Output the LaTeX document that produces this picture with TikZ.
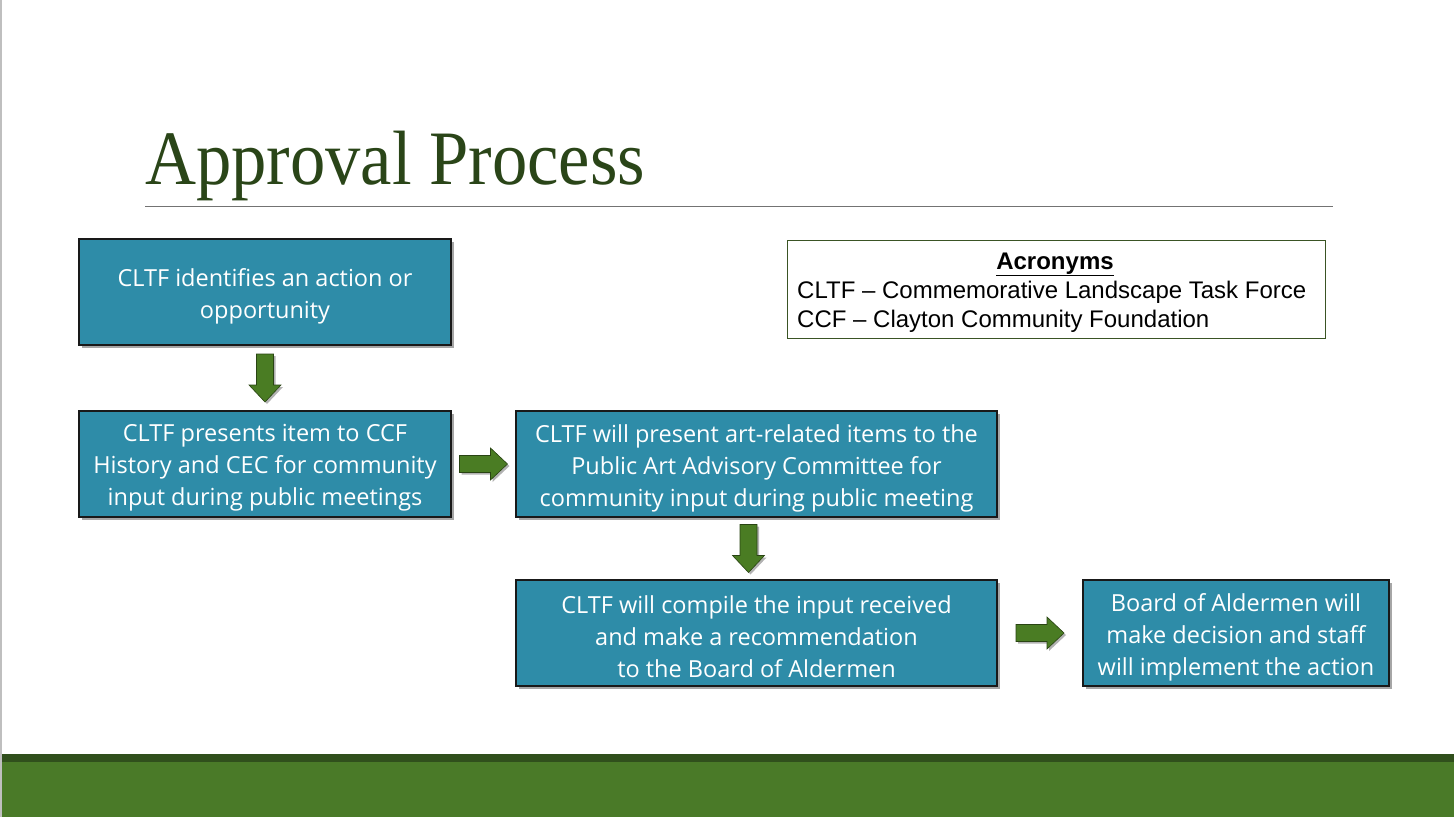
\documentclass[tikz,border=0pt]{standalone}
\usepackage{fontspec}
\setmainfont{Liberation Serif}
\newfontfamily\boxfont{Open Sans}
\newfontfamily\arialfont{Liberation Sans}
\usetikzlibrary{shadows,calc}
\definecolor{boxteal}{HTML}{2E8CA8}
\definecolor{arrgreen}{HTML}{4A7C23}
\definecolor{bargreen}{HTML}{4A7A28}
\definecolor{bardark}{HTML}{304F1C}
\definecolor{titlegreen}{HTML}{2A4518}
\definecolor{acrborder}{HTML}{3A5424}
\tikzset{
  stepbox/.style={draw=black!90, line width=1.3pt, fill=boxteal, inner sep=0pt,
    minimum height=106pt,
    drop shadow={shadow xshift=2.5pt, shadow yshift=-2.5pt, fill=black, opacity=0.35}},
  steptext/.style={text=white, font=\boxfont\fontsize{23.5}{32}\selectfont,
    align=center, inner sep=0pt, yshift=-4pt},
  garrow/.style={draw=arrgreen!55!black, line width=0.6pt, fill=arrgreen,
    drop shadow={shadow xshift=2pt, shadow yshift=-2pt, fill=black, opacity=0.3}},
  acrtext/.style={inner sep=0pt, font=\arialfont\fontsize{24}{29}\selectfont},
}
\begin{document}
\begin{tikzpicture}[x=1pt,y=-1pt]
\useasboundingbox (0,0) rectangle (1454,817);
\fill[white] (0,0) rectangle (1454,817);
\draw[black!25, line width=1.5pt] (0.75,0) -- (0.75,817);
% bottom bar
\fill[bardark] (2,754) rectangle (1454,762);
\fill[bargreen] (2,762) rectangle (1454,817);
% title
\node[anchor=base west, inner sep=0pt, text=titlegreen, font=\fontsize{77}{80}\selectfont] (title) at (145,184) {\scalebox{0.917}[1]{Approval Process}};
\draw[black!55, line width=1pt] (145,206) -- (1333,206);
% boxes
\node[stepbox, minimum width=372pt, label={[steptext]center:{CLTF identifies an action or\\opportunity}}] (b1) at (265,292) {};
\node[stepbox, minimum width=372pt, label={[steptext]center:{CLTF presents item to CCF\\History and CEC for community\\input during public meetings}}] (b2) at (265,464) {};
\node[stepbox, minimum width=481pt, label={[steptext]center:{CLTF will present art-related items to the\\Public Art Advisory Committee for\\community input during public meeting}}] (b3) at (756.5,464) {};
\node[stepbox, minimum width=481pt, label={[steptext]center:{CLTF will compile the input received\\and make a recommendation\\to the Board of Aldermen}}] (b4) at (756.5,633) {};
\node[stepbox, minimum width=306pt, label={[steptext]center:{Board of Aldermen will\\make decision and staff\\will implement the action}}] (b5) at (1236,633) {};
% acronyms
\node[draw=acrborder, line width=1pt, minimum width=538pt, minimum height=98pt, inner sep=0pt] (acr) at (1056,289) {};
\node[acrtext, anchor=base, font=\arialfont\fontsize{24}{29}\selectfont\bfseries] (acrt) at (1055,269) {\underline{Acronyms}};
\node[acrtext, anchor=base west] (acr1) at (797,298) {CLTF – Commemorative Landscape Task Force};
\node[acrtext, anchor=base west] (acr2) at (797,327) {CCF – Clayton Community Foundation};
% block arrows between boxes
\path (b1.south) -- (b2.north) coordinate[midway] (m1);
\path (b2.east) -- (b3.west) coordinate[midway] (m2);
\path ($(b3.south)+(-8,0)$) -- ($(b4.north)+(-8,0)$) coordinate[midway] (m3);
\path (b4.east) -- (b5.west) coordinate[midway] (m4);
\foreach \m in {m1,m3}{
  \draw[garrow] ($(\m)+(-8.5,-24)$) -- ($(\m)+(8.5,-24)$) -- ($(\m)+(8.5,7)$) -- ($(\m)+(16,7)$)
    -- ($(\m)+(0,24)$) -- ($(\m)+(-16,7)$) -- ($(\m)+(-8.5,7)$) -- cycle;
}
\foreach \m in {m2,m4}{
  \draw[garrow] ($(\m)+(-24,-8.5)$) -- ($(\m)+(-24,8.5)$) -- ($(\m)+(7,8.5)$) -- ($(\m)+(7,16)$)
    -- ($(\m)+(24,0)$) -- ($(\m)+(7,-16)$) -- ($(\m)+(7,-8.5)$) -- cycle;
}
\end{tikzpicture}
\end{document}
